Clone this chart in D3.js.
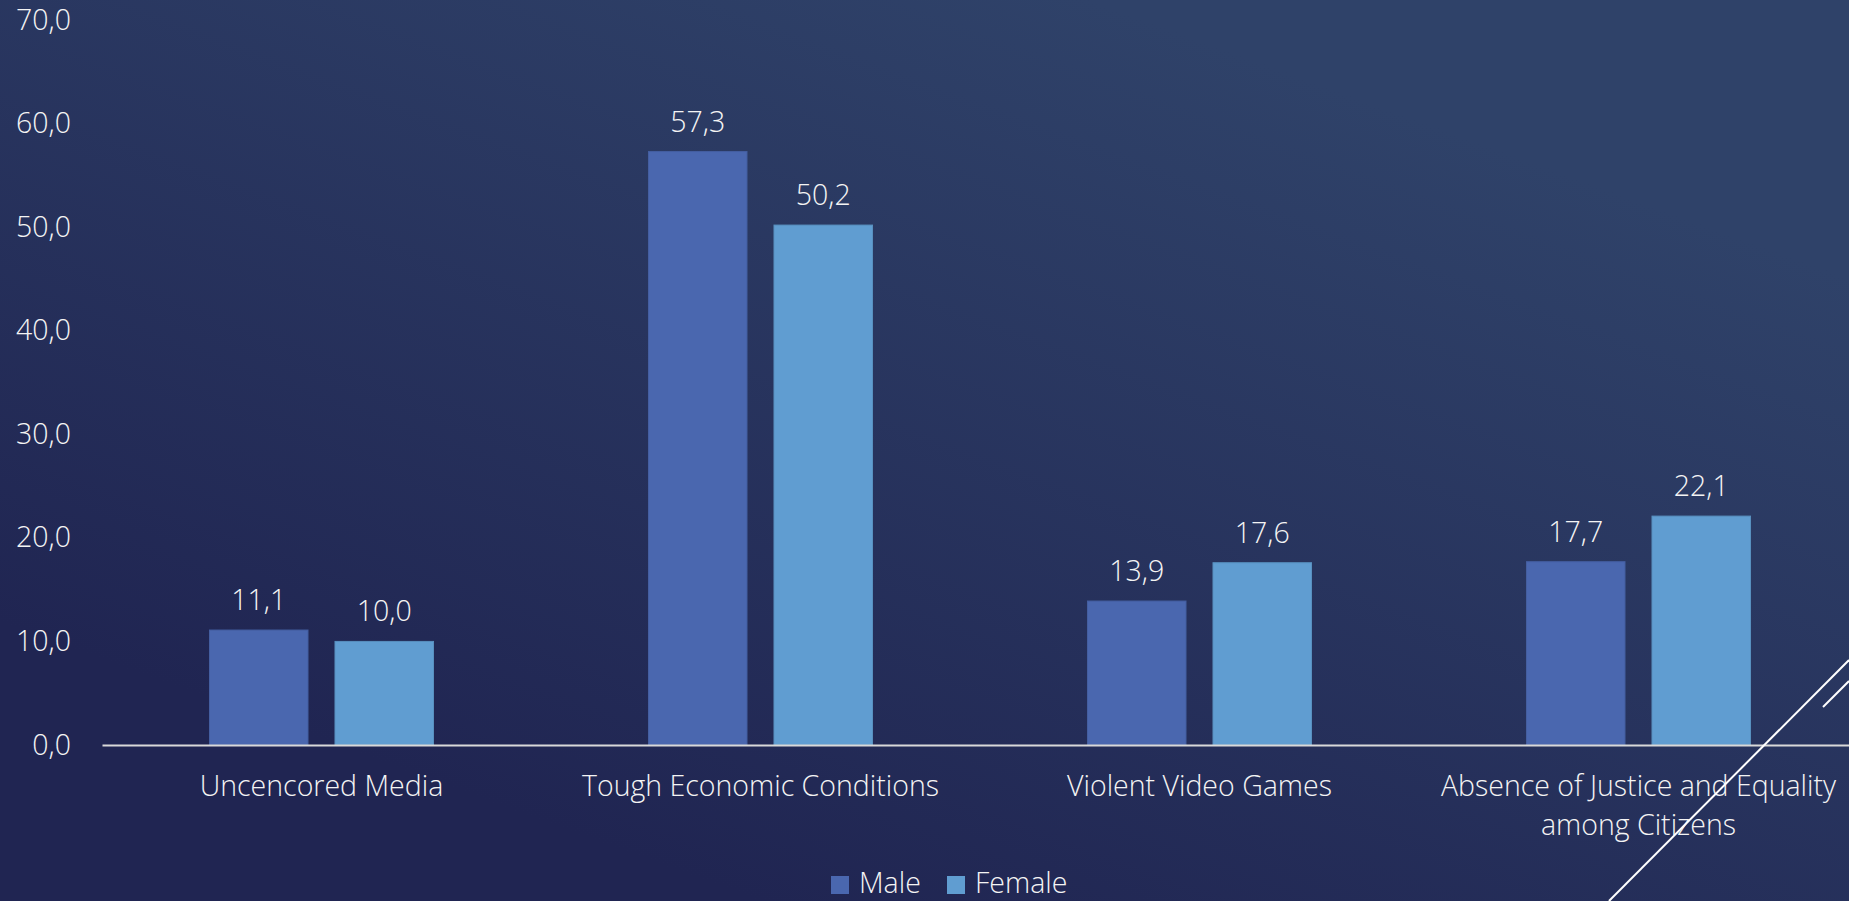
<!DOCTYPE html>
<html>
<head>
<meta charset="utf-8">
<script src="https://cdn.jsdelivr.net/npm/d3@7"></script>
<style>
  html, body { margin: 0; padding: 0; overflow: hidden; background: #262d5a; }
  svg { display: block; }
  text { font-family: "Open Sans", "Noto Sans", sans-serif; font-weight: 300; fill: #f4f4f4; }
</style>
</head>
<body>
<svg id="chart" width="1849" height="901"></svg>
<script>
// ---- data ----
const categories = [
  "Uncencored Media",
  "Tough Economic Conditions",
  "Violent Video Games",
  "Absence of Justice and Equality among Citizens"
];
const categoryLines = [
  ["Uncencored Media"],
  ["Tough Economic Conditions"],
  ["Violent Video Games"],
  ["Absence of Justice and Equality", "among Citizens"]
];
const seriesNames = ["Male", "Female"];
const maleValues = [11.1, 57.3, 13.9, 17.7];
const femaleValues = [10.0, 50.2, 17.6, 22.1];
const yTicks = [0, 10, 20, 30, 40, 50, 60, 70];
const seriesColors = ["#4a67af", "#609dd1"];

// ---- layout ----
const W = 1849, H = 901;
const svg = d3.select("#chart");

const defs = svg.append("defs");
const grad = defs.append("linearGradient")
  .attr("id", "bg").attr("gradientUnits", "userSpaceOnUse")
  .attr("x1", 760).attr("y1", 901).attr("x2", 1090).attr("y2", 0);
grad.append("stop").attr("offset", "0").attr("stop-color", "#202552");
grad.append("stop").attr("offset", "1").attr("stop-color", "#2f4269");
svg.append("rect").attr("width", W).attr("height", H).attr("fill", "url(#bg)");

const x0 = d3.scaleBand().domain(categories).range([102, 1858]).paddingInner(0).paddingOuter(0);
const x1 = d3.scaleBand().domain(seriesNames).range([-112, 112]).paddingInner(0.215).paddingOuter(0);
const y = d3.scaleLinear().domain([0, 70]).range([745, 20]);

// y-axis labels
const yAxis = d3.axisLeft(y).tickValues(yTicks).tickSize(0).tickPadding(0)
  .tickFormat(d => d3.format(".1f")(d).replace(".", ","));
const yg = svg.append("g").attr("transform", "translate(71,0)").call(yAxis);
yg.select(".domain").remove();
yg.selectAll("text").attr("font-size", 28.5).attr("fill", "#f4f4f4")
  .style("font-family", "'Open Sans', sans-serif").style("font-weight", 300);

// bars
const rows = categories.map((c, i) => ({ cat: c, vals: [maleValues[i], femaleValues[i]] }));
const groups = svg.append("g").selectAll("g").data(rows).join("g")
  .attr("transform", d => `translate(${x0(d.cat) + x0.bandwidth() / 2},0)`);

groups.selectAll("rect").data(d => d.vals.map((v, j) => ({ v, s: seriesNames[j], j })))
  .join("rect")
  .attr("x", d => x1(d.s))
  .attr("width", x1.bandwidth())
  .attr("y", d => y(d.v))
  .attr("height", d => y(0) - y(d.v))
  .attr("fill", d => seriesColors[d.j])
  .attr("stroke", d => d3.color(seriesColors[d.j]).darker(0.25))
  .attr("stroke-width", 1);

groups.selectAll("text.val").data(d => d.vals.map((v, j) => ({ v, s: seriesNames[j] })))
  .join("text")
  .attr("class", "val")
  .attr("x", d => x1(d.s) + x1.bandwidth() / 2)
  .attr("y", d => y(d.v) - 20)
  .attr("text-anchor", "middle")
  .attr("font-size", 28.5)
  .text(d => d3.format(".1f")(d.v).replace(".", ","));

// baseline axis
const xAxis = d3.axisBottom(x0).tickSize(0).tickFormat("");
const xg = svg.append("g").attr("transform", `translate(0,${y(0)})`).call(xAxis);
xg.select(".domain").attr("stroke", "#d9d9d9").attr("stroke-width", 2);

// category labels
const catLabels = svg.append("g").selectAll("text").data(categories).join("text")
  .attr("x", d => x0(d) + x0.bandwidth() / 2)
  .attr("y", 796)
  .attr("text-anchor", "middle")
  .attr("font-size", 28.5);
catLabels.each(function (d, i) {
  const t = d3.select(this);
  categoryLines[i].forEach((line, k) => {
    t.append("tspan").attr("x", x0(d) + x0.bandwidth() / 2).attr("dy", k === 0 ? 0 : 39).text(line);
  });
});

// legend
const legend = svg.append("g");
const legendItems = [{ name: seriesNames[0], x: 831 }, { name: seriesNames[1], x: 947 }];
legendItems.forEach((it, i) => {
  legend.append("rect").attr("x", it.x).attr("y", 876).attr("width", 18).attr("height", 18)
    .attr("fill", seriesColors[i]);
  legend.append("text").attr("x", it.x + 28).attr("y", 893).attr("font-size", 28.5).text(it.name);
});

// decorative slide lines (bottom right)
const deco = svg.append("g").attr("stroke", "#ffffff").attr("stroke-width", 2).attr("fill", "none");
deco.append("line").attr("x1", 1609).attr("y1", 901).attr("x2", 1849).attr("y2", 660);
deco.append("line").attr("x1", 1823).attr("y1", 707).attr("x2", 1849).attr("y2", 681);
</script>
</body>
</html>
